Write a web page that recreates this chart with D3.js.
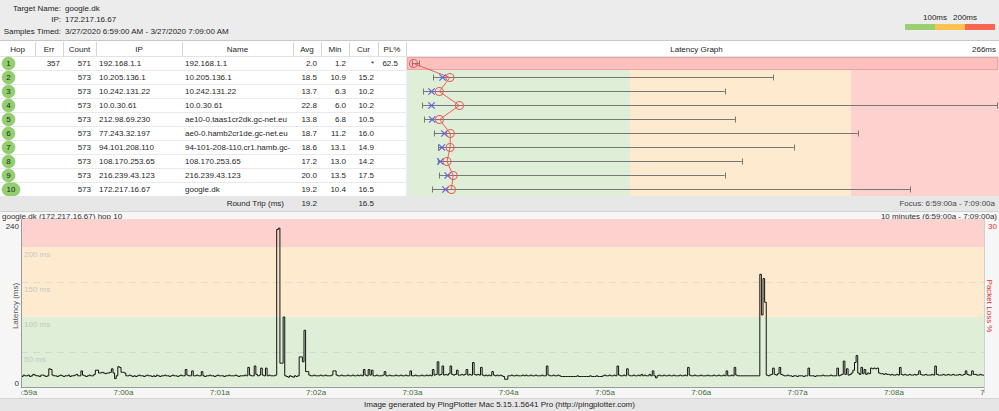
<!DOCTYPE html>
<html><head><meta charset="utf-8">
<script src="https://cdn.jsdelivr.net/npm/d3@7"></script>
<style>
html,body{margin:0;padding:0;background:#ececec;}
svg{display:block;font-family:"Liberation Sans",Arial,Helvetica,sans-serif;}
</style></head><body>
<svg id="c" width="999" height="411"></svg>
<script>
// ---------------- DATA ----------------
const targetName = "google.dk";
const targetIP = "172.217.16.67";
const samplesTimed = "3/27/2020 6:59:00 AM - 3/27/2020 7:09:00 AM";

const columnNames = ["Hop","Err","Count","IP","Name","Avg","Min","Cur","PL%"];
const hopNumbers = [1,2,3,4,5,6,7,8,9,10];
const errCounts = [357,null,null,null,null,null,null,null,null,null];
const sampleCounts = [571,573,573,573,573,573,573,573,573,573];
const hopIPs = ["192.168.1.1","10.205.136.1","10.242.131.22","10.0.30.61","212.98.69.230","77.243.32.197","94.101.208.110","108.170.253.65","216.239.43.123","172.217.16.67"];
const hopNames = ["192.168.1.1","10.205.136.1","10.242.131.22","10.0.30.61","ae10-0.taas1cr2dk.gc-net.eu","ae0-0.hamb2cr1de.gc-net.eu","94-101-208-110.cr1.hamb.gc-","108.170.253.65","216.239.43.123","google.dk"];
const avgMs = [2.0,18.5,13.7,22.8,13.8,18.7,18.6,17.2,20.0,19.2];
const minMs = [1.2,10.9,6.3,6.0,6.8,11.2,13.1,13.0,13.5,10.4];
const curMs = [null,15.2,10.2,10.2,10.5,16.0,14.9,14.2,17.5,16.5];
const maxMs = [4.6,164.7,142.8,266,147.5,203,174,150.6,142.8,226.7];
const plPct = [62.5,null,null,null,null,null,null,null,null,null];
const roundTripAvg = 19.2, roundTripCur = 16.5;
const graphMaxMs = 266;
const zoneLimits = [0,100,200];            // green / yellow / red thresholds (ms)
const legendLabels = ["100ms","200ms"];

const chartTitle = "google.dk (172.217.16.67) hop 10";
const chartRange = "10 minutes (6:59:00a - 7:09:00a)";
const focusText = "Focus: 6:59:00a - 7:09:00a";
const footerText = "Image generated by PingPlotter Mac 5.15.1.5641 Pro (http://pingplotter.com)";
const chartStart = new Date(2020,2,27,6,59,0);
const chartEnd = new Date(2020,2,27,7,9,0);
const sampleIntervalSec = 1;
const yMaxMs = 240;
const bandLabelMs = [50,100,150,200];
// hop 10 latency over time (ms), one value per sample interval
const hop10Latency = [
16,17,16,15,17,16,16,17,15,16,18,17,16,16,15,17,17,16,15,16,
26,25,17,16,16,15,16,17,16,15,16,16,17,15,16,16,17,18,16,16,
23,17,16,15,16,17,16,16,18,24,24,20,20,21,20,19,20,20,21,26,
20,12,16,29,28,21,21,20,16,16,17,16,15,16,15,16,17,16,16,15,
16,17,16,16,15,16,15,17,16,15,16,16,17,16,16,15,16,17,16,16,
15,16,17,16,16,25,17,16,16,23,16,16,17,16,16,22,16,15,16,16,
17,16,16,15,16,17,16,16,16,15,16,16,17,16,16,16,17,16,15,16,
16,16,17,16,28,17,16,16,30,18,16,17,27,17,16,27,16,17,16,16,
16,17,225,227,34,34,100,16,15,14,16,15,14,16,15,16,43,43,36,81,
22,22,17,16,16,17,16,16,16,17,16,16,17,16,16,16,17,23,23,17,
16,16,17,16,16,16,17,16,16,17,16,16,17,16,17,16,25,17,16,25,
17,24,16,16,17,16,16,16,17,22,16,16,17,16,16,16,17,16,16,17,
16,16,17,16,16,23,16,16,17,16,16,16,17,16,16,17,16,17,16,25,
17,18,36,17,18,30,17,18,17,19,30,18,17,18,24,17,17,18,17,18,
25,17,18,17,35,18,17,18,17,28,17,16,17,16,17,16,22,17,16,17,
16,17,16,15,11,11,16,16,17,16,16,17,16,16,16,17,16,17,16,16,
17,16,16,17,16,16,16,17,16,16,30,17,16,16,17,16,16,17,16,15,
15,15,15,15,15,15,15,15,15,16,15,15,15,15,15,15,15,16,15,15,
15,16,15,15,15,16,17,16,16,17,16,16,17,16,30,17,16,16,17,16,
26,17,16,16,17,16,16,17,16,18,16,17,16,16,18,16,23,16,13,16,
17,16,16,17,16,16,17,16,16,17,16,16,16,17,16,16,17,16,28,17,
16,16,17,16,16,16,17,16,16,16,17,16,16,16,17,16,16,17,16,16,
17,16,23,16,16,17,16,28,17,16,16,16,16,16,16,16,16,16,16,16,
16,16,16,161,103,155,121,17,16,17,18,27,18,17,19,28,18,17,16,16,
17,16,16,15,16,16,15,16,16,16,15,16,16,27,16,16,16,15,16,16,
16,16,17,16,16,16,16,17,16,16,16,27,16,17,18,37,18,26,17,18,
20,24,35,45,20,18,28,19,25,18,20,19,27,26,27,26,27,20,19,19,
18,19,18,18,17,18,17,17,18,17,28,18,17,18,17,17,18,17,17,18,
17,18,23,18,17,17,18,17,17,17,18,17,30,18,17,17,17,18,17,17,
18,17,17,18,17,17,17,18,17,17,18,23,18,17,17,23,18,18,17,17,
18,17,17,18];

// ---------------- LAYOUT / STYLE ----------------
const FS = 8;
const zoneColors = ["#dfeed6","#feebcf","#fdd2ce"];
const legendColors = ["#9ccf70","#fdc250","#f86652"];
const colEdges = [0,35,63,96,182,293,321,349,378,406];
const rowTop = 57, rowH = 14, nRows = hopNumbers.length;
const svg = d3.select("#c");

function T(x,y,s,anchor,opt){
  opt = opt||{};
  return svg.append("text").attr("x",x).attr("y",y).attr("dy","0.35em")
    .attr("text-anchor",anchor||"start").attr("font-size",opt.fs||FS)
    .attr("fill",opt.fill||"#1e1e1e").text(s);
}

svg.append("rect").attr("width",999).attr("height",411).attr("fill","#ececec");

// header info
[["Target Name:",targetName,8],["IP:",targetIP,19.5],["Samples Timed:",samplesTimed,31]].forEach(r=>{
  T(61,r[2],r[0],"end"); T(65,r[2],r[1],"start");
});

// legend
const lx = d3.scaleLinear().domain([0,300]).range([905,995]);
[0,100,200].forEach((v,i)=>{
  svg.append("rect").attr("x",lx(v)).attr("y",24).attr("width",lx(v+100)-lx(v)).attr("height",6).attr("fill",legendColors[i]);
});
legendLabels.forEach((s,i)=>T(lx(zoneLimits[i+1]),17.5,s,"middle"));

// table header row
svg.append("rect").attr("x",0).attr("y",41).attr("width",999).attr("height",15).attr("fill","#fff");
svg.append("line").attr("x1",0).attr("x2",999).attr("y1",40.5).attr("y2",40.5).attr("stroke","#c8c8c8");
svg.append("line").attr("x1",0).attr("x2",999).attr("y1",56.5).attr("y2",56.5).attr("stroke","#e2e2e2");
colEdges.slice(1).forEach(x=>{
  svg.append("line").attr("x1",x+0.5).attr("x2",x+0.5).attr("y1",42).attr("y2",56).attr("stroke","#d6d6d6");
});
columnNames.forEach((n,i)=>T((colEdges[i]+colEdges[i+1])/2,49,n,"middle"));

// latency graph
const xL = d3.scaleLinear().domain([0,graphMaxMs]).range([409,997]);
T((407+998)/2 - 6,49,"Latency Graph","middle");
T(996,49,graphMaxMs+"ms","end");

// table body
svg.append("rect").attr("x",0).attr("y",rowTop).attr("width",406).attr("height",rowH*nRows-1).attr("fill","#fff");
const zoneEdges = [zoneLimits[0],zoneLimits[1],zoneLimits[2],graphMaxMs];
for(let z=0;z<3;z++){
  const x0 = z===0?407:xL(zoneEdges[z]), x1 = z===2?999:xL(zoneEdges[z+1]);
  svg.append("rect").attr("x",x0).attr("y",rowTop).attr("width",x1-x0).attr("height",rowH*nRows-1).attr("fill",zoneColors[z]);
}
for(let i=1;i<nRows;i++){
  svg.append("line").attr("x1",0).attr("x2",406).attr("y1",rowTop-0.5+i*rowH).attr("y2",rowTop-0.5+i*rowH).attr("stroke","#e9e9e9");
}
const rowY = i => rowTop + 6.5 + i*rowH;

hopNumbers.forEach((h,i)=>{
  const y = rowY(i);
  const w = 13 + (String(h).length-1)*5;
  svg.append("rect").attr("x",2).attr("y",y-6.5).attr("width",w).attr("height",13).attr("rx",6.5)
    .attr("fill","#93cf6e").attr("stroke","#86c460").attr("stroke-width",0.6);
  T(2+w/2,y,String(h),"middle");
  if(errCounts[i]!=null) T(60,y,String(errCounts[i]),"end");
  T(91,y,String(sampleCounts[i]),"end");
  T(99,y,hopIPs[i],"start");
  T(185,y,hopNames[i],"start");
  T(317,y,avgMs[i].toFixed(1),"end");
  T(346,y,minMs[i].toFixed(1),"end");
  T(374,y,curMs[i]==null?"*":curMs[i].toFixed(1),"end");
  if(plPct[i]!=null) T(398,y,plPct[i].toFixed(1),"end");
  if(plPct[i]!=null && plPct[i]>0){
    svg.append("rect").attr("x",407.5).attr("y",y-6).attr("width",590).attr("height",12)
      .attr("fill","#ffbfbf").attr("stroke","#eba3a3").attr("stroke-width",1);
  }
});

// min-max bars
hopNumbers.forEach((h,i)=>{
  const y = rowY(i);
  const g = svg.append("g").attr("stroke","#777").attr("stroke-width",1);
  g.append("line").attr("x1",xL(minMs[i])).attr("x2",xL(maxMs[i])).attr("y1",y).attr("y2",y);
  [minMs[i],maxMs[i]].forEach(v=>g.append("line").attr("x1",Math.round(xL(v))+0.5).attr("x2",Math.round(xL(v))+0.5).attr("y1",y-3).attr("y2",y+3));
});
// avg line
svg.append("path").datum(avgMs).attr("fill","none").attr("stroke","#e8605a").attr("stroke-width",1)
  .attr("d",d3.line().x(d=>xL(d)).y((d,i)=>rowY(i)));
// current X
hopNumbers.forEach((h,i)=>{
  if(curMs[i]==null) return;
  const x = xL(curMs[i]), y = rowY(i), s=3.2;
  svg.append("path").attr("d",`M${x-s},${y-s}L${x+s},${y+s}M${x-s},${y+s}L${x+s},${y-s}`)
    .attr("stroke","#5a63e6").attr("stroke-width",1.2).attr("fill","none");
});
// avg circles
avgMs.forEach((v,i)=>{
  svg.append("circle").attr("cx",xL(v)).attr("cy",rowY(i)).attr("r",4)
    .attr("fill","none").attr("stroke","#e8605a").attr("stroke-width",1.1);
});

// round trip row
svg.append("rect").attr("x",0).attr("y",196).attr("width",999).attr("height",15).attr("fill","#e7e7e7");
T(284,203.5,"Round Trip (ms)","end");
T(317,203.5,roundTripAvg.toFixed(1),"end");
T(374,203.5,roundTripCur.toFixed(1),"end");
T(995,203.5,focusText,"end",{fill:"#444"});

// ---------------- LOWER CHART ----------------
svg.append("rect").attr("x",0).attr("y",211).attr("width",999).attr("height",187).attr("fill","#f6f6f6");
svg.append("line").attr("x1",0).attr("x2",999).attr("y1",211.5).attr("y2",211.5).attr("stroke","#d2d2d2");
T(2,216,chartTitle,"start",{fill:"#333"});
T(997,216,chartRange,"end",{fill:"#333"});

const PL = 21, PR = 984, PT = 219, PB = 387;
const xT = d3.scaleTime().domain([chartStart,chartEnd]).range([16.7,979.7]);
const yT = d3.scaleLinear().domain([0,yMaxMs]).range([PB,PT]);

const bandEdges = [0,zoneLimits[1],zoneLimits[2],yMaxMs];
for(let z=0;z<3;z++){
  svg.append("rect").attr("x",PL).attr("width",PR-PL).attr("y",yT(bandEdges[z+1])).attr("height",yT(bandEdges[z])-yT(bandEdges[z+1])).attr("fill",zoneColors[z]);
}
bandLabelMs.forEach(v=>{
  if(v%100!==0){
    svg.append("line").attr("x1",PL).attr("x2",PR).attr("y1",Math.round(yT(v))+0.5).attr("y2",Math.round(yT(v))+0.5)
      .attr("stroke","#000").attr("stroke-opacity",0.07).attr("stroke-dasharray","7,5");
  }
  T(24,yT(v)+7,v+" ms","start",{fill:"#c6c6c6"});
});

svg.append("clipPath").attr("id","pc").append("rect").attr("x",PL).attr("y",PT-2).attr("width",PR-PL).attr("height",PB-PT+2);
const pts = hop10Latency.map((v,j)=>({t:new Date(+chartStart + j*sampleIntervalSec*1000), v}));
svg.append("path").datum(pts).attr("clip-path","url(#pc)").attr("fill","none").attr("stroke","#111").attr("stroke-width",1)
  .attr("d",d3.line().curve(d3.curveStepAfter).x(d=>xT(d.t)).y(d=>yT(d.v)));

// axes lines
svg.append("line").attr("x1",PL+0.5).attr("x2",PL+0.5).attr("y1",PT).attr("y2",PB).attr("stroke","#9a9a9a");
svg.append("line").attr("x1",PL).attr("x2",PR).attr("y1",PB+0.5).attr("y2",PB+0.5).attr("stroke","#9a9a9a");
svg.append("line").attr("x1",PR+0.5).attr("x2",PR+0.5).attr("y1",PT).attr("y2",PB+6).attr("stroke","#cfcfcf");

T(19,yT(yMaxMs)+7,String(yMaxMs),"end",{fill:"#333"});
T(19,yT(0)-4,"0","end",{fill:"#333"});
svg.append("text").attr("transform",`translate(15,${(PT+PB)/2+3}) rotate(-90)`).attr("text-anchor","middle")
  .attr("dy","0.35em").attr("font-size",FS).attr("fill","#555").text("Latency (ms)");
T(997,226,"30","end",{fill:"#e0302c"});
svg.append("text").attr("transform",`translate(990,306) rotate(90)`).attr("text-anchor","middle")
  .attr("dy","0.35em").attr("font-size",FS).attr("fill","#e0302c").text("Packet Loss %");

// time axis (clip rect is in the translated group's coordinates)
svg.append("clipPath").attr("id","ac").append("rect").attr("x",PL).attr("y",0).attr("width",PR-PL).attr("height",12);
const ax = svg.append("g").attr("clip-path","url(#ac)").attr("transform",`translate(0,${PB})`)
  .call(d3.axisBottom(xT).ticks(d3.timeMinute.every(1)).tickSize(0).tickFormat(d3.timeFormat("%-I:%Ma")));
ax.select(".domain").remove();
ax.selectAll("text").attr("text-anchor","start").attr("font-size",FS).attr("fill","#3e6e34")
  .attr("font-family",'"Liberation Sans", Arial, sans-serif').attr("y",2).attr("dy","0.71em");

// footer
svg.append("rect").attr("x",0).attr("y",398).attr("width",999).attr("height",13).attr("fill","#e6e6e6");
svg.append("line").attr("x1",0).attr("x2",999).attr("y1",398.5).attr("y2",398.5).attr("stroke","#d4d4d4");
T(499.5,404.5,footerText,"middle");
</script>
</body></html>
